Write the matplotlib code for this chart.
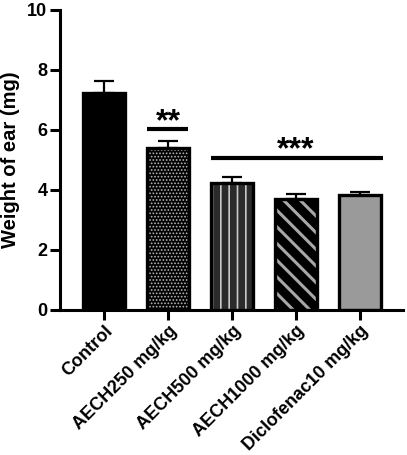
import matplotlib
matplotlib.use("Agg")
import matplotlib.pyplot as plt
import numpy as np

categories = ["Control", "AECH250 mg/kg", "AECH500 mg/kg", "AECH1000 mg/kg", "Diclofenac10 mg/kg"]
means = [7.25, 5.40, 4.22, 3.70, 3.82]
errors = [0.40, 0.23, 0.21, 0.18, 0.13]
yticks = [0, 2, 4, 6, 8, 10]

plt.rcParams['font.family'] = ['Liberation Sans', 'DejaVu Sans']
plt.rcParams['font.weight'] = 'bold'

fig = plt.figure(figsize=(4.07, 4.55), dpi=100)
ax = fig.add_axes([60/407, 1-310/455, 343/407, 300/455])

x = np.arange(len(categories))
w = 0.65
faces = ['black', 'black', '#2b2b2b', 'black', '#9a9a9a']
hatches = [None, '.....', '||', '\\\\', None]
hcols = ['black', '#b8b8b8', '#c8c8c8', '#a8a8a8', '#9a9a9a']
hlws = [1.0, 0.8, 1.2, 2.2, 1.0]

ax.errorbar(x, means, yerr=[np.zeros(len(means)), errors], fmt='none',
            ecolor='black', elinewidth=1.6, capsize=7, capthick=1.6, zorder=1)
for i in range(len(x)):
    with plt.rc_context({'hatch.linewidth': hlws[i]}):
        ax.bar(x[i], means[i], w, color=faces[i], edgecolor=hcols[i], hatch=hatches[i],
               linewidth=0, zorder=2)
    ax.bar(x[i], means[i], w, fill=False, edgecolor='black', linewidth=2.4, zorder=3)

# significance annotations
ax.plot([0.67, 1.31], [6.02, 6.02], color='black', lw=3, solid_capstyle='butt')
ax.text(1.0, 5.98, '**', ha='center', va='baseline', fontsize=23, fontweight='bold')
ax.plot([1.67, 4.36], [5.08, 5.08], color='black', lw=3, solid_capstyle='butt')
ax.text(3.0, 5.05, '***', ha='center', va='baseline', fontsize=23, fontweight='bold')

ax.set_xlim(-0.69, 4.67)
ax.set_ylim(0, 10)
ax.set_yticks(yticks)
ax.set_yticklabels([str(t) for t in yticks], fontsize=13, fontweight='bold')
ax.set_xticks(x)
ax.set_xticklabels(categories, rotation=45, ha='right', rotation_mode='anchor',
                   fontsize=13, fontweight='bold')
ax.set_ylabel('Weight of ear (mg)', fontsize=14.5, fontweight='bold', labelpad=5)

for s in ['top', 'right']:
    ax.spines[s].set_visible(False)
for s in ['left', 'bottom']:
    ax.spines[s].set_linewidth(2.2)
ax.tick_params(axis='both', width=2.2, length=7, pad=2)

fig.savefig('out.png', dpi=100)
